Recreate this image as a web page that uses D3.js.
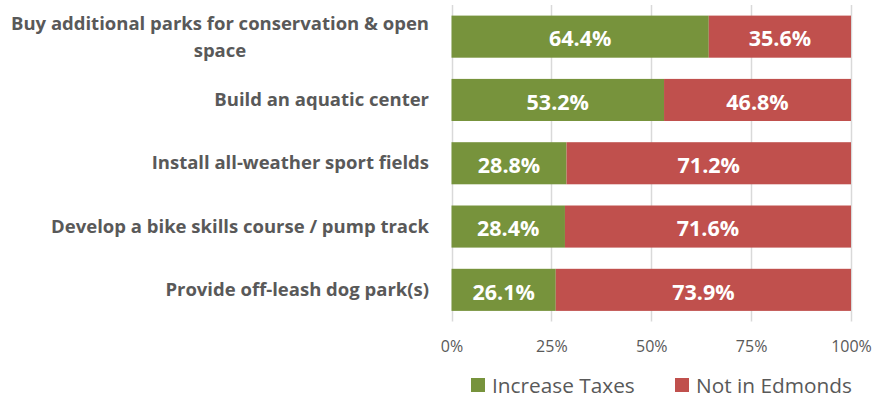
<!DOCTYPE html>
<html>
<head>
<meta charset="utf-8">
<script src="https://cdn.jsdelivr.net/npm/d3@7"></script>
<style>
  html, body { margin: 0; padding: 0; background: #ffffff; }
  svg { display: block; }
  text { font-family: "Open Sans", "Noto Sans", sans-serif; }
</style>
</head>
<body>
<svg id="chart" width="874" height="397"></svg>
<script>
// Survey items and the share of responses for each option
const categories = [
  "Buy additional parks for conservation & open space",
  "Build an aquatic center",
  "Install all-weather sport fields",
  "Develop a bike skills course / pump track",
  "Provide off-leash dog park(s)"
];
const increaseTaxes = [64.4, 53.2, 28.8, 28.4, 26.1];
const notInEdmonds  = [35.6, 46.8, 71.2, 71.6, 73.9];
const seriesNames = ["Increase Taxes", "Not in Edmonds"];
const seriesColors = ["#77933C", "#C0504D"];
const tickValues = [0, 25, 50, 75, 100];

const svg = d3.select("#chart");
const plot = { left: 451.5, right: 851, top: 5, bottom: 321.5 };

const x = d3.scaleLinear().domain([0, 100]).range([plot.left, plot.right]);
const y = d3.scaleBand().domain(categories)
  .range([plot.top, plot.bottom]).paddingInner(0.335).paddingOuter(0.1675);

// Vertical gridlines
svg.append("g").selectAll("line").data(tickValues).join("line")
  .attr("x1", d => Math.round(x(d)) + 0.5).attr("x2", d => Math.round(x(d)) + 0.5)
  .attr("y1", plot.top).attr("y2", plot.bottom)
  .attr("stroke", "#D9D9D9").attr("stroke-width", 1.5);

// Bottom axis with percent labels, no domain line or ticks
const xAxis = d3.axisBottom(x).tickValues(tickValues)
  .tickFormat(d => d + "%").tickSize(0).tickPadding(0);
const axisG = svg.append("g").attr("transform", `translate(0, 341)`).call(xAxis);
axisG.select(".domain").remove();
axisG.selectAll("text")
  .attr("font-family", "Open Sans").attr("font-size", 16)
  .attr("fill", "#595959").attr("dy", "0.71em");

// Stacked bars
const rows = categories.map((c, i) => ({ cat: c, vals: [increaseTaxes[i], notInEdmonds[i]] }));
const segs = [];
rows.forEach(r => {
  let acc = 0;
  r.vals.forEach((v, k) => { segs.push({ cat: r.cat, k, x0: acc, x1: acc + v, v }); acc += v; });
});

svg.append("g").selectAll("rect").data(segs).join("rect")
  .attr("x", d => x(d.x0)).attr("width", d => x(d.x1) - x(d.x0))
  .attr("y", d => y(d.cat)).attr("height", y.bandwidth())
  .attr("fill", d => seriesColors[d.k]);

svg.append("g").selectAll("text").data(segs).join("text")
  .attr("x", d => (x(d.x0) + x(d.x1)) / 2)
  .attr("y", d => y(d.cat) + y.bandwidth() / 2)
  .attr("text-anchor", "middle").attr("dy", "0.45em")
  .attr("font-size", 21.5).attr("font-weight", 700).attr("fill", "#ffffff")
  .text(d => d.v.toFixed(1) + "%");

// Category labels, wrapped when too long; wrapped lines are centred together
const labelRight = 429;
const maxLabelWidth = 425;
const labelSize = 18.5;
const labelG = svg.append("g");
categories.forEach(c => {
  const t = labelG.append("text")
    .attr("font-size", labelSize).attr("font-weight", 700).attr("fill", "#595959")
    .attr("text-anchor", "end");
  const words = c.split(" ");
  const lines = [];
  let cur = [];
  words.forEach(w => {
    cur.push(w);
    t.text(cur.join(" "));
    if (t.node().getComputedTextLength() > maxLabelWidth && cur.length > 1) {
      cur.pop();
      lines.push(cur.join(" "));
      cur = [w];
    }
  });
  lines.push(cur.join(" "));
  t.text(null);
  const cy = y(c) + y.bandwidth() / 2;
  const lh = 27.5;
  if (lines.length === 1) {
    t.append("tspan").attr("x", labelRight).attr("y", cy).attr("dy", "0.33em").text(lines[0]);
  } else {
    // measure widest line to centre all lines within it
    const probe = labelG.append("text").attr("font-size", labelSize).attr("font-weight", 700);
    const widths = lines.map(l => { probe.text(l); return probe.node().getComputedTextLength(); });
    probe.remove();
    const wMax = d3.max(widths);
    const cx = labelRight - wMax / 2;
    t.attr("text-anchor", "middle");
    lines.forEach((l, i) => {
      t.append("tspan").attr("x", cx)
        .attr("y", cy + (i - (lines.length - 1) / 2) * lh).attr("dy", "0.36em").text(l);
    });
  }
});

// Legend
const legendItems = [
  { name: seriesNames[0], color: seriesColors[0], x: 471 },
  { name: seriesNames[1], color: seriesColors[1], x: 675 }
];
const lg = svg.append("g").selectAll("g").data(legendItems).join("g")
  .attr("transform", d => `translate(${d.x}, 378)`);
lg.append("rect").attr("width", 14).attr("height", 14).attr("fill", d => d.color);
lg.append("text").attr("x", 21).attr("y", 7).attr("dy", "0.36em")
  .attr("font-size", 20.8).attr("fill", "#595959").text(d => d.name);
</script>
</body>
</html>
